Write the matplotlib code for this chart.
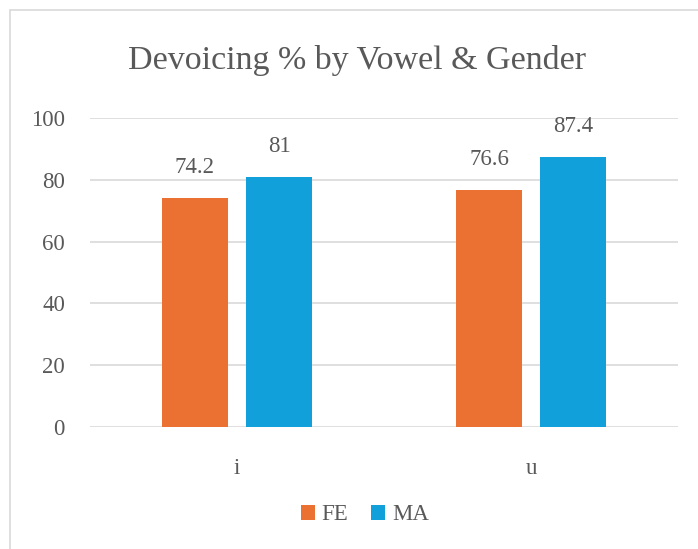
import numpy as np
import matplotlib
matplotlib.use("Agg")
import matplotlib.pyplot as plt
from matplotlib.patches import Rectangle

# === Data ===
vowels = ["i", "u"]
fe_vals = [74.2, 76.6]
ma_vals = [81, 87.4]
fe_labels = ["74.2", "76.6"]
ma_labels = ["81", "87.4"]
yticks = [0, 20, 40, 60, 80, 100]

plt.rcParams["font.family"] = ["Liberation Serif", "DejaVu Serif"]
text_col = "#595959"
fe_col = "#EB7132"
ma_col = "#11A0D9"
fs = 16.5

fig = plt.figure(figsize=(6.98, 5.49), dpi=100)
fig.patches.append(Rectangle((10 / 698, -0.1), 1.2, 1 - 10 / 549 + 0.1,
                             transform=fig.transFigure, fill=False,
                             edgecolor="#D9D9D9", linewidth=1.2))

ax = fig.add_axes([90 / 698, 1 - 427 / 549, 588 / 698, 309 / 549])

x = np.arange(len(vowels))
w = 0.225
off = (w + 0.061) / 2
b1 = ax.bar(x - off, fe_vals, w, color=fe_col, label="FE", zorder=3)
b2 = ax.bar(x + off, ma_vals, w, color=ma_col, label="MA", zorder=3)

for bars, labs in [(b1, fe_labels), (b2, ma_labels)]:
    for bar, lab in zip(bars, labs):
        ax.text(bar.get_x() + bar.get_width() / 2, bar.get_height() + 6.5, lab,
                ha="center", va="bottom", fontsize=fs, color=text_col)

ax.set_xlim(-0.5, 1.5)
ax.set_ylim(0, 100)
ax.set_yticks(yticks)
ax.set_xticks(x)
ax.set_xticklabels(vowels)
ax.tick_params(axis="y", length=0, pad=18, labelsize=fs, labelcolor=text_col)
ax.tick_params(axis="x", length=0, pad=22, labelsize=fs, labelcolor=text_col)
ax.grid(axis="y", color="#D9D9D9", linewidth=1.2, zorder=0)
for s in ax.spines.values():
    s.set_visible(False)

fig.text(357 / 698, 1 - 60 / 549, "Devoicing % by Vowel & Gender",
         ha="center", va="center", fontsize=24.5, color=text_col)

fig.legend(loc="center", bbox_to_anchor=(365 / 698, 1 - 515 / 549), ncol=2,
           frameon=False, fontsize=fs, labelcolor=text_col,
           handlelength=0.6, handleheight=0.6, handletextpad=0.3,
           columnspacing=1.0)

fig.savefig("out.png", dpi=100)
